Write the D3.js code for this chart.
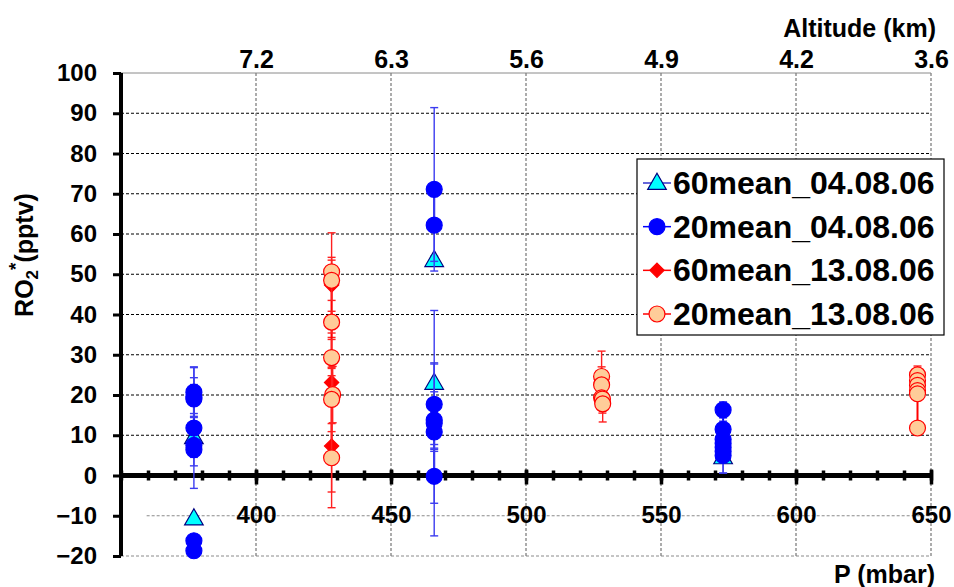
<!DOCTYPE html>
<html>
<head>
<meta charset="utf-8">
<script src="https://cdn.jsdelivr.net/npm/d3@7"></script>
<style>
  html, body { margin: 0; padding: 0; background: #fff; }
  svg { display: block; }
  text { font-family: Arial, "Liberation Sans", sans-serif; font-weight: bold; fill: #000; }
</style>
</head>
<body>
<svg id="chart" width="954" height="587"></svg>
<script>
// ---------------- data ----------------
const seriesNames = ["60mean_04.08.06", "20mean_04.08.06", "60mean_13.08.06", "20mean_13.08.06"];

// 60mean_04.08.06 (triangles)
const p60_0408   = [377, 377, 466, 466, 573];
const v60_0408   = [9.5, -10.7, 53.5, 23.0, 4.5];
const e60_0408   = [3, 0, 1, 5, 3.9];

// 20mean_04.08.06 (blue circles)
const p20_0408   = [377, 377, 377, 377, 377, 377, 377, 377,
                    466, 466, 466, 466, 466, 466, 466,
                    573, 573, 573, 573, 573, 573, 573];
const v20_0408   = [20.7, 19.5, 19.0, 11.8, 7.5, 6.4, -16.2, -18.7,
                    71.1, 62.2, 17.7, 13.8, 13.0, 10.8, -0.2,
                    16.3, 11.5, 9.0, 8.0, 7.0, 6.0, 5.0];
const e20_0408   = [6.3, 4.8, 3.6, 15.0, 3.0, 4.0, 0, 0,
                    20.3, 9.0, 10.0, 7.0, 28.0, 4.8, 6.7,
                    2.0, 2.0, 2.5, 2.5, 2.0, 2.5, 4.4];

// 60mean_13.08.06 (red diamonds)
const p60_1308   = [428, 428, 428];
const v60_1308   = [47.3, 23.1, 7.3];
const e60_1308   = [13.0, 3.5, 15.3];

// 20mean_13.08.06 (peach circles)
const p20_1308   = [428, 428, 428, 428, 428.4, 428, 428,
                    528, 528, 528, 528.3, 528.4,
                    645, 645, 645, 645, 645, 645];
const v20_1308   = [50.6, 48.5, 38.1, 29.3, 20.1, 18.9, 4.4,
                    24.6, 22.5, 19.3, 19.0, 17.8,
                    25.0, 23.6, 22.4, 21.1, 20.3, 11.8];
const e20_1308   = [3.6, 5.0, 2.7, 4.5, 7.0, 8.0, 8.5,
                    6.3, 4.5, 3.0, 3.5, 4.5,
                    2.2, 1.5, 1.5, 1.5, 1.5, 0];

// axis ticks
const yTicks = [-20, -10, 0, 10, 20, 30, 40, 50, 60, 70, 80, 90, 100];
const pTicks = [400, 450, 500, 550, 600, 650];
const pMinorTicks = d3.range(350, 651, 10);
const altLabels = ["7.2", "6.3", "5.6", "4.9", "4.2", "3.6"];

// ---------------- styles ----------------
const styles = [
  {shape: "triangle", fill: "#00ffff", stroke: "#000080", line: "#3333cc", err: "#4a4ae0", size: 150},
  {shape: "circle",   fill: "#0000ff", stroke: "#0000ff", line: "#0000ff", err: "#3c3cf0", size: 200},
  {shape: "diamond",  fill: "#ff0000", stroke: "#ff0000", line: "#ff0000", err: "#ff2020", size: 130},
  {shape: "circle",   fill: "#ffcc99", stroke: "#ff0000", line: "#ff0000", err: "#ff2020", size: 200}
];
const seriesData = [
  [p60_0408, v60_0408, e60_0408],
  [p20_0408, v20_0408, e20_0408],
  [p60_1308, v60_1308, e60_1308],
  [p20_1308, v20_1308, e20_1308]
].map(([p, v, e]) => p.map((pp, i) => ({p: pp, v: v[i], e: e[i]})));

// ---------------- scales ----------------
const x = d3.scaleLinear().domain([350, 650]).range([121, 931]);
const y = d3.scaleLinear().domain([-20, 100]).range([556, 73]);

const svg = d3.select("#chart");

// ---------------- grid ----------------
const grid = svg.append("g");
yTicks.filter(t => t !== 0).forEach(t => {
  const neg = t < 0, top = t === 100;
  grid.append("line")
    .attr("x1", t === -10 ? x(359.5) : x(350)).attr("x2", x(650))
    .attr("y1", y(t)).attr("y2", y(t))
    .attr("stroke", neg || top ? "#8a8a8a" : "#000")
    .attr("stroke-width", 1)
    .attr("stroke-dasharray", top ? null : "3,2");
});
pTicks.forEach(t => {
  grid.append("line")
    .attr("x1", x(t)).attr("x2", x(t))
    .attr("y1", y(100)).attr("y2", y(-20))
    .attr("stroke", "#808080").attr("stroke-width", 1.3)
    .attr("stroke-dasharray", "3,2");
});

// ---------------- y axis ----------------
const yAxis = svg.append("g")
  .attr("transform", `translate(${x(350)},0)`)
  .call(d3.axisLeft(y).tickValues(yTicks).tickSize(8).tickPadding(16).tickFormat(d3.format("d")));
yAxis.select(".domain").attr("stroke", "#000").attr("stroke-width", 4)
  .attr("d", `M0,${y(100)}V${y(-20)}`);
yAxis.selectAll(".tick line").attr("stroke", "#000").attr("stroke-width", 3);
yAxis.selectAll(".tick text").attr("font-size", 24).attr("font-family", "Arial, 'Liberation Sans', sans-serif").attr("font-weight", "bold").attr("fill", "#000");

// ---------------- x axis at zero ----------------
const y0 = y(0);
svg.append("line").attr("x1", x(350) - 2).attr("x2", x(650) + 2)
  .attr("y1", y0).attr("y2", y0).attr("stroke", "#000").attr("stroke-width", 5);
const minorAxis = svg.append("g")
  .attr("transform", `translate(0,${y0 + 5})`)
  .call(d3.axisBottom(x).tickValues(pMinorTicks).tickSize(-10).tickFormat(""));
minorAxis.select(".domain").remove();
minorAxis.selectAll(".tick line").attr("stroke", "#000").attr("stroke-width", 3.5);
const majorAxis = svg.append("g")
  .attr("transform", `translate(0,${y0 - 6})`)
  .call(d3.axisBottom(x).tickValues(pTicks).tickSize(15).tickFormat(""));
majorAxis.select(".domain").remove();
majorAxis.selectAll(".tick line").attr("stroke", "#000").attr("stroke-width", 3.5);

const xLab = svg.append("g")
  .attr("transform", `translate(0,${y0})`)
  .call(d3.axisBottom(x).tickValues(pTicks).tickSize(0).tickPadding(30.5).tickFormat(d3.format("d")));
xLab.select(".domain").remove();
xLab.selectAll(".tick text").attr("font-size", 24).attr("font-family", "Arial, 'Liberation Sans', sans-serif").attr("font-weight", "bold").attr("fill", "#000");

// ---------------- top altitude axis ----------------
const topAxis = svg.append("g")
  .attr("transform", `translate(0,${y(100)})`)
  .call(d3.axisTop(x).tickValues(pTicks).tickSize(0).tickPadding(5)
    .tickFormat((d, i) => altLabels[i]));
topAxis.select(".domain").remove();
topAxis.selectAll(".tick text").attr("font-size", 25).attr("font-family", "Arial, 'Liberation Sans', sans-serif").attr("font-weight", "bold").attr("fill", "#000");

// ---------------- titles ----------------
svg.append("text").attr("x", 936).attr("y", 37).attr("text-anchor", "end")
  .attr("font-size", 25).text("Altitude (km)");
svg.append("text").attr("x", 935).attr("y", 583).attr("text-anchor", "end")
  .attr("font-size", 25).text("P (mbar)");
const yt = svg.append("text").attr("transform", "translate(33,255) rotate(-90)")
  .attr("text-anchor", "middle").attr("font-size", 25);
yt.append("tspan").text("RO");
yt.append("tspan").attr("font-size", 17).attr("dy", 5).text("2");
yt.append("tspan").attr("font-size", 19).attr("dy", -16).text("*");
yt.append("tspan").attr("dy", 11).text("(pptv)");

// ---------------- series ----------------
function symFor(s) {
  const t = s.shape === "triangle" ? d3.symbolTriangle : s.shape === "diamond" ? d3.symbolDiamond2 : d3.symbolCircle;
  return d3.symbol().type(t).size(s.size);
}
const plot = svg.append("g");
seriesData.forEach((data, si) => {
  const s = styles[si];
  const g = plot.append("g");
  // series line: connects neighbouring points at the same pressure level (breaks at large gaps)
  const groups = d3.groups(data, d => Math.round(d.p / 5));
  groups.forEach(([, pts]) => {
    const sorted = pts.slice().sort((a, b) => b.v - a.v);
    for (let i = 1; i < sorted.length; i++) {
      const a = sorted[i - 1], b = sorted[i];
      if (a.v - b.v > 15) continue;
      g.append("path")
        .attr("d", d3.line().x(d => x(d.p)).y(d => y(d.v))([a, b]))
        .attr("fill", "none").attr("stroke", s.line).attr("stroke-width", 2);
    }
  });
  // error bars
  data.filter(d => d.e > 0).forEach(d => {
    const eg = g.append("g").attr("stroke", s.err).attr("stroke-width", 1.4);
    eg.append("line").attr("x1", x(d.p)).attr("x2", x(d.p)).attr("y1", y(d.v - d.e)).attr("y2", y(d.v + d.e));
    [d.v - d.e, d.v + d.e].forEach(v => {
      eg.append("line").attr("x1", x(d.p) - 4).attr("x2", x(d.p) + 4).attr("y1", y(v)).attr("y2", y(v));
    });
  });
  // markers
  g.selectAll("path.mk").data(data).join("path").attr("class", "mk")
    .attr("d", symFor(s))
    .attr("transform", d => `translate(${x(d.p)},${y(d.v) + (s.shape === "triangle" ? 1 : 0)})`)
    .attr("fill", s.fill).attr("stroke", s.stroke).attr("stroke-width", 1.2);
});

// ---------------- legend ----------------
const lg = svg.append("g");
lg.append("rect").attr("x", 637).attr("y", 159).attr("width", 307).attr("height", 176)
  .attr("fill", "#fff").attr("stroke", "#000").attr("stroke-width", 1.2);
const rowY = d3.scalePoint().domain(seriesNames).range([183, 314]);
seriesNames.forEach((name, i) => {
  const s = styles[i];
  const cy = rowY(name);
  lg.append("line").attr("x1", 643).attr("x2", 671).attr("y1", cy).attr("y2", cy)
    .attr("stroke", s.line).attr("stroke-width", 1.5);
  lg.append("path").attr("d", symFor(s)).attr("transform", `translate(657,${cy + (s.shape === "triangle" ? 1 : 0)})`)
    .attr("fill", s.fill).attr("stroke", s.stroke).attr("stroke-width", 1.2);
  lg.append("text").attr("x", 673).attr("y", cy + 11).attr("font-size", 32).text(name);
});
</script>
</body>
</html>
